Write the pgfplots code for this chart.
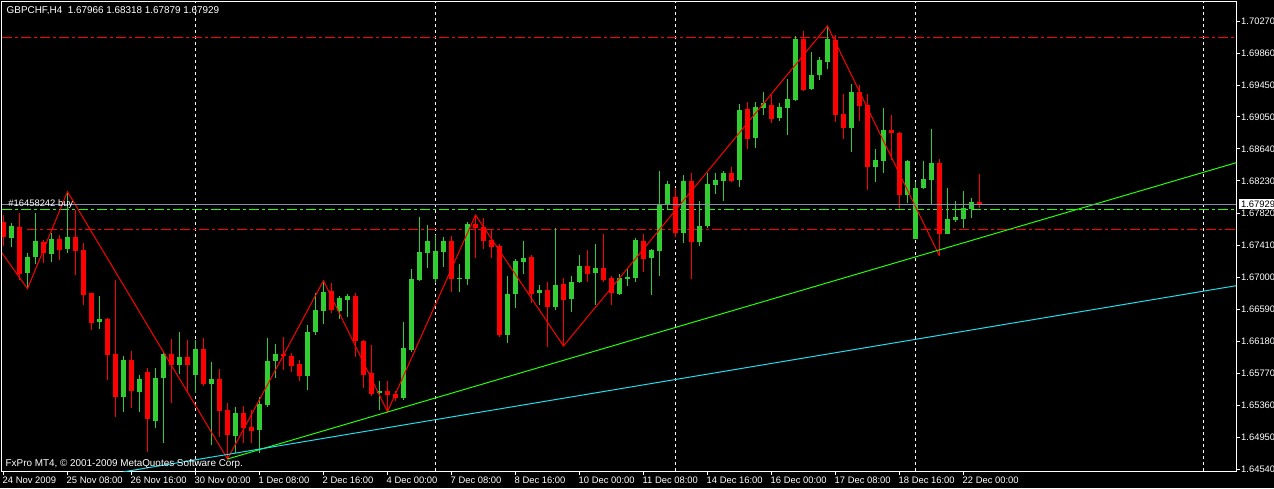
\documentclass[border=0pt]{standalone}
\usepackage{fontspec}
\setmainfont{Liberation Sans}
\usepackage{pgfplots}
\usepackage{pgfplotstable}
\pgfplotsset{compat=1.18}
\definecolor{bullc}{HTML}{32CD32}
\definecolor{bearc}{HTML}{FF0000}
\definecolor{ordc}{HTML}{8090A8}
\definecolor{trendg}{HTML}{22FF00}
\definecolor{trendc}{HTML}{20DDEE}
\newcommand{\lbl}{\fontsize{4.7pt}{5.6pt}\selectfont}
\newcommand{\lblb}{\fontsize{4.95pt}{5.8pt}\selectfont}

\pgfplotstableread{
i o h l c
1 1.67504 1.67692 1.67385 1.67657
3 1.67056 1.67308 1.66851 1.67253
4 1.67253 1.67816 1.67167 1.67465
6 1.67295 1.67564 1.67193 1.67483
8 1.67355 1.68093 1.67312 1.67509
12 1.66429 1.66758 1.66339 1.66463
15 1.65469 1.65990 1.65277 1.65938
17 1.65533 1.65750 1.65277 1.65691
19 1.65161 1.65832 1.65072 1.65704
20 1.65712 1.66045 1.64872 1.66015
22 1.65874 1.66293 1.65759 1.65973
24 1.65746 1.66194 1.65512 1.66079
26 1.65631 1.65917 1.64850 1.65695
29 1.64969 1.65341 1.64744 1.65256
32 1.65042 1.65469 1.64744 1.65375
33 1.65362 1.66216 1.65333 1.65926
34 1.65926 1.66143 1.65712 1.66015
38 1.65734 1.66386 1.65554 1.66301
39 1.66301 1.66792 1.66258 1.66578
40 1.66566 1.66953 1.66399 1.66813
42 1.66566 1.66758 1.66459 1.66736
43 1.66706 1.66779 1.66493 1.66758
47 1.65512 1.65670 1.65298 1.65542
50 1.65456 1.66421 1.65426 1.66088
51 1.66066 1.67103 1.66045 1.66975
52 1.66962 1.67773 1.66950 1.67325
53 1.67312 1.67666 1.67120 1.67462
54 1.66975 1.67538 1.66920 1.67334
55 1.67325 1.67517 1.67133 1.67462
57 1.66975 1.67167 1.66813 1.66992
58 1.66975 1.67705 1.66898 1.67679
63 1.66258 1.67014 1.66160 1.66783
64 1.66783 1.67227 1.66600 1.67206
65 1.67197 1.67462 1.67039 1.67248
67 1.66800 1.66898 1.66642 1.66834
69 1.66621 1.67624 1.66578 1.66898
71 1.66719 1.67014 1.66557 1.66933
72 1.66941 1.67282 1.66928 1.67142
74 1.67056 1.67423 1.66642 1.67112
77 1.66783 1.67039 1.66770 1.66992
78 1.66979 1.67112 1.66886 1.67005
79 1.66992 1.67496 1.66941 1.67474
81 1.67248 1.67359 1.66770 1.67346
82 1.67337 1.68358 1.67014 1.67935
83 1.67935 1.68230 1.67867 1.68191
85 1.67560 1.68306 1.67432 1.68230
87 1.67453 1.67974 1.67398 1.67654
88 1.67657 1.68328 1.67624 1.68191
89 1.68178 1.68328 1.68063 1.68242
90 1.68230 1.68358 1.67977 1.68328
92 1.68242 1.69215 1.68157 1.69138
94 1.68784 1.69245 1.68656 1.69173
95 1.69168 1.69373 1.69074 1.69232
97 1.69040 1.69224 1.69001 1.69173
98 1.69168 1.69535 1.68818 1.69279
99 1.69266 1.70086 1.69260 1.70047
101 1.69403 1.69885 1.69394 1.69586
102 1.69586 1.69813 1.69522 1.69778
103 1.69757 1.70214 1.69663 1.70047
106 1.68912 1.69471 1.68605 1.69373
109 1.68413 1.68635 1.68221 1.68498
110 1.68486 1.69160 1.68336 1.68882
113 1.68050 1.68498 1.67944 1.68486
114 1.67487 1.68221 1.67481 1.68144
115 1.68136 1.68489 1.68127 1.68251
116 1.68242 1.68895 1.67931 1.68464
118 1.67551 1.68136 1.67545 1.67743
119 1.67730 1.67974 1.67709 1.67773
120 1.67743 1.68102 1.67632 1.67888
121 1.67867 1.68008 1.67760 1.67957
}\bull

\pgfplotstableread{
i o h l c
0 1.67705 1.67794 1.67398 1.67513
2 1.67645 1.67820 1.66962 1.67039
5 1.67449 1.67474 1.67180 1.67312
7 1.67483 1.67538 1.67218 1.67350
9 1.67509 1.67858 1.67030 1.67337
10 1.67346 1.67436 1.66642 1.66770
11 1.66792 1.66796 1.66322 1.66416
13 1.66463 1.66470 1.65682 1.66002
14 1.66019 1.66962 1.65213 1.65469
16 1.65938 1.66054 1.65328 1.65545
18 1.65789 1.65840 1.64765 1.65179
21 1.66015 1.66203 1.65392 1.65874
23 1.65973 1.66194 1.65512 1.65874
25 1.66079 1.66216 1.65606 1.65631
27 1.65695 1.65819 1.64953 1.65292
28 1.65298 1.65392 1.64671 1.64978
30 1.65256 1.65353 1.64880 1.65072
31 1.65077 1.65298 1.64872 1.65030
35 1.66015 1.66229 1.65810 1.65990
36 1.65986 1.66032 1.65789 1.65862
37 1.65883 1.65938 1.65673 1.65734
41 1.66822 1.66920 1.66544 1.66578
44 1.66758 1.66792 1.65981 1.66182
45 1.66185 1.66194 1.65576 1.65746
46 1.65768 1.66130 1.65478 1.65503
48 1.65542 1.65673 1.65277 1.65490
49 1.65503 1.65545 1.65414 1.65456
56 1.67462 1.67526 1.66813 1.66975
59 1.67679 1.67794 1.67240 1.67632
60 1.67637 1.67752 1.67355 1.67465
61 1.67474 1.67611 1.67240 1.67389
62 1.67398 1.67423 1.66237 1.66258
66 1.67261 1.67282 1.66664 1.66783
68 1.66834 1.66941 1.66109 1.66621
70 1.66911 1.66984 1.66118 1.66706
73 1.67142 1.67346 1.66941 1.67039
75 1.67112 1.67551 1.66941 1.66962
76 1.66984 1.67014 1.66642 1.66800
80 1.67462 1.67551 1.67069 1.67231
84 1.68021 1.68136 1.67517 1.67560
86 1.68230 1.68328 1.66971 1.67453
91 1.68328 1.68413 1.68217 1.68230
93 1.69151 1.69245 1.68639 1.68767
96 1.69202 1.69330 1.68976 1.69023
100 1.70047 1.70150 1.69382 1.69394
104 1.70034 1.70098 1.68981 1.69074
105 1.69087 1.69343 1.68767 1.68912
107 1.69373 1.69458 1.68998 1.69190
108 1.69202 1.69343 1.68114 1.68413
111 1.68882 1.69074 1.68498 1.68848
112 1.68848 1.68861 1.67867 1.68050
117 1.68464 1.68511 1.67270 1.67551
122 1.67966 1.68318 1.67879 1.67929
}\bear

\begin{document}
\begin{tikzpicture}
\fill[black] (0,0) rectangle (637pt,-244pt);
\begin{axis}[
  at={(1pt,-235.5pt)}, anchor=south west,
  scale only axis, width=617pt, height=234.5pt,
  xmin=-0.1875, xmax=154.0625, ymin=1.645176, ymax=1.705208,
  axis line style={draw=white, line width=0.5pt},
  tick style={draw=white, line width=0.5pt},
  major tick length=2pt, tick align=outside,
  xtick pos=left, ytick pos=right, yticklabel pos=right,
  xtick={0,8,...,120},
  xticklabels={24 Nov 2009, 25 Nov 08:00, 26 Nov 16:00, 30 Nov 00:00, 1 Dec 08:00, 2 Dec 16:00, 4 Dec 00:00, 7 Dec 08:00, 8 Dec 16:00, 10 Dec 00:00, 11 Dec 08:00, 14 Dec 16:00, 16 Dec 00:00, 17 Dec 08:00, 18 Dec 16:00, 22 Dec 00:00},
  ytick={1.6454,1.6495,1.6536,1.6577,1.6618,1.6659,1.6700,1.6741,1.6782,1.6823,1.6864,1.6905,1.6945,1.6986,1.7027},
  yticklabels={1.64540,1.64950,1.65360,1.65770,1.66180,1.66590,1.67000,1.67410,1.67820,1.68230,1.68640,1.69050,1.69450,1.69860,1.70270},
  /pgf/number format/assume math mode=true,
  ticklabel style={font=\lbl, text=white, inner sep=0pt},
  xticklabel style={anchor=north west, xshift=-0.6pt, yshift=-0.8pt},
  yticklabel style={anchor=west, xshift=0.4pt},
  extra x ticks={24,54,84,114,150},
  extra x tick labels={},
  extra x tick style={grid=major, tick style={draw=none}},
  major grid style={draw=white, line width=0.5pt, dash pattern=on 1.5pt off 1.5pt},
]
% horizontal order levels
\addplot[bearc, line width=0.5pt, dash pattern=on 5pt off 1.5pt on 1.5pt off 1.5pt] coordinates {(-0.19,1.70069) (160,1.70069)};
\addplot[trendg, line width=0.5pt, dash pattern=on 5pt off 1.5pt on 1.5pt off 1.5pt] coordinates {(-0.19,1.67867) (160,1.67867)};
\addplot[bearc, line width=0.5pt, dash pattern=on 5pt off 1.5pt on 1.5pt off 1.5pt] coordinates {(3,1.67611) (160,1.67611)};
% wicks
\addplot[draw=none, no markers, error bars/.cd, y dir=minus, y explicit, error mark=none,
  error bar style={draw=bullc, solid, line width=0.5pt}]
  table[x=i, y=h, y error minus expr=\thisrow{h}-\thisrow{l}] {\bull};
\addplot[draw=none, no markers, error bars/.cd, y dir=minus, y explicit, error mark=none,
  error bar style={draw=bearc, solid, line width=0.5pt}]
  table[x=i, y=h, y error minus expr=\thisrow{h}-\thisrow{l}] {\bear};
% bodies
\addplot[draw=none, no markers, error bars/.cd, y dir=minus, y explicit, error mark=none,
  error bar style={draw=bullc, solid, line width=2.5pt}]
  table[x=i, y=c, y error minus expr=\thisrow{c}-\thisrow{o}] {\bull};
\addplot[draw=none, no markers, error bars/.cd, y dir=minus, y explicit, error mark=none,
  error bar style={draw=bearc, solid, line width=2.5pt}]
  table[x=i, y=o, y error minus expr=\thisrow{o}-\thisrow{c}] {\bear};
% zigzag
\addplot[bearc, line width=0.5pt] coordinates {(-0.19,1.67308) (3,1.66851) (8,1.68093) (28,1.64671) (40,1.66953) (48,1.65277) (59,1.67794) (70,1.66118) (103,1.70214) (117,1.67270)};
% trend lines
\addplot[trendg, line width=0.5pt] coordinates {(28,1.64671) (160,1.68642)};
\addplot[trendc, line width=0.5pt] coordinates {(15,1.64507) (160,1.66991)};
% order line
\addplot[ordc, line width=0.5pt] coordinates {(-0.19,1.67931) (160,1.67931)};
\end{axis}
\begin{scope}[x=0.5pt,y=-0.5pt]
\node[anchor=base west, inner sep=0pt, text=white, font=\lblb] at (6.3,13.8) {GBPCHF,H4\ \ 1.67966 1.68318 1.67879 1.67929};
\node[anchor=base west, inner sep=0pt, text=white, font=\lbl] at (8,206.7) {\#16458242 buy};
\node[anchor=base west, inner sep=0pt, text=white, font=\lblb] at (5.3,466) {FxPro MT4, © 2001-2009 MetaQuotes Software Corp.};
\fill[white] (1238.5,199) rectangle (1276,208.5);
\node[anchor=base west, inner sep=0pt, text=black, font=\lbl] at (1240.7,207.2) {1.67929};
\end{scope}
\pgfresetboundingbox
\path[use as bounding box] (0,0) rectangle (637pt,-244pt);
\end{tikzpicture}
\end{document}
